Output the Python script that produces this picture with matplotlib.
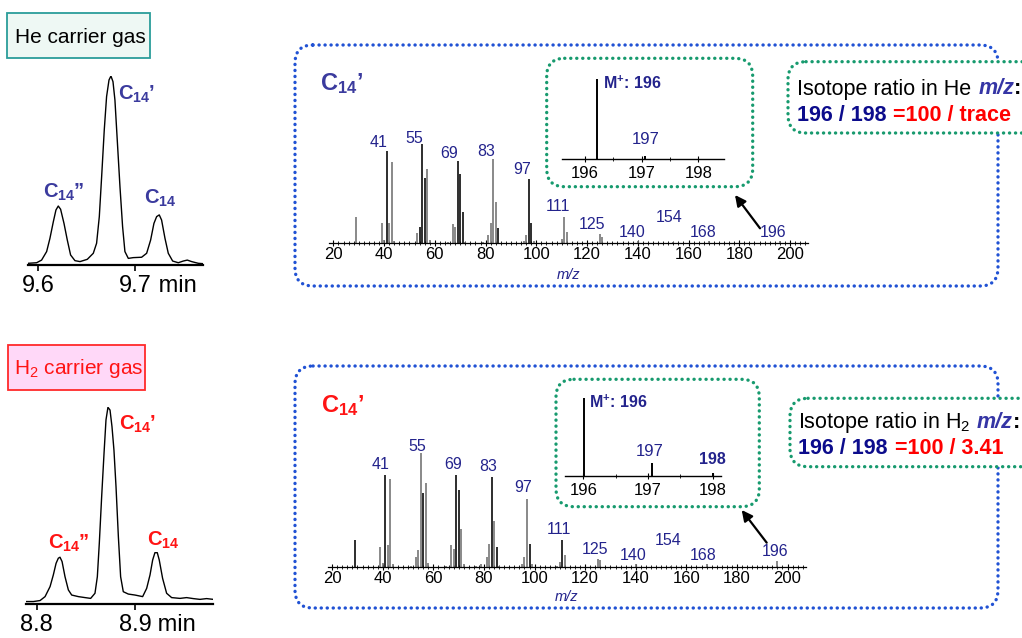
import matplotlib
matplotlib.use('Agg')
import matplotlib.pyplot as plt
from matplotlib.patches import FancyBboxPatch, Rectangle
from matplotlib.ticker import MultipleLocator

plt.rcParams['font.family'] = ['Liberation Sans', 'DejaVu Sans']
plt.rcParams['mathtext.fontset'] = 'custom'
plt.rcParams['mathtext.rm'] = 'Liberation Sans'
plt.rcParams['mathtext.it'] = 'Liberation Sans:italic'
plt.rcParams['mathtext.bf'] = 'Liberation Sans:bold'

# ---- chromatograms (time in min, signal in % of C14' peak) ----
he_time = [9.5897, 9.5983, 9.6034, 9.6086, 9.6120, 9.6155, 9.6182, 9.6206, 9.6230,
           9.6265, 9.6299, 9.6333, 9.6378, 9.6430, 9.6505, 9.6567, 9.6601, 9.6629,
           9.6653, 9.6680, 9.6704, 9.6729, 9.6749, 9.6770, 9.6790, 9.6814, 9.6842,
           9.6869, 9.6893, 9.6928, 9.6979, 9.7065, 9.7117, 9.7158, 9.7192, 9.7220,
           9.7247, 9.7271, 9.7306, 9.7340, 9.7385, 9.7443, 9.7495, 9.7536, 9.7581,
           9.7649, 9.7701]
he_signal = [0.9, 1.2, 2.6, 7.1, 14.1, 22.9, 29.1, 31.2, 29.5,
             22.0, 13.2, 5.3, 2.3, 1.8, 3.0, 6.2, 11.5, 25.6,
             46.7, 71.4, 89.1, 97.9, 100, 97.0, 87.3, 66.1, 41.4,
             20.3, 7.1, 3.5, 3.9, 4.1, 6.2, 13.2, 22.0, 25.6,
             26.5, 23.8, 14.1, 6.2, 2.1, 1.2, 2.1, 2.6, 1.8,
             0.9, 0.7]

h2_time = [8.7892, 8.7966, 8.8034, 8.8085, 8.8136, 8.8169, 8.8197, 8.8220, 8.8237,
           8.8258, 8.8288, 8.8322, 8.8356, 8.8424, 8.8492, 8.8549, 8.8593, 8.8617,
           8.8637, 8.8661, 8.8685, 8.8705, 8.8725, 8.8746, 8.8766, 8.8786, 8.8807,
           8.8831, 8.8854, 8.8881, 8.8932, 8.9000, 8.9078, 8.9119, 8.9153, 8.9180,
           8.9203, 8.9227, 8.9247, 8.9281, 8.9322, 8.9373, 8.9458, 8.9525, 8.9593,
           8.9661, 8.9729, 8.9797]
h2_signal = [1.4, 1.4, 1.9, 3.9, 9.0, 14.9, 20.8, 23.4, 23.9,
             21.7, 14.0, 7.3, 4.7, 3.9, 3.4, 3.0, 5.6, 14.0,
             31.0, 54.7, 76.6, 93.6, 100, 98.6, 90.2, 78.3, 59.7,
             34.3, 14.0, 6.4, 5.2, 4.7, 3.9, 8.1, 14.9, 22.5,
             26.2, 26.2, 22.5, 13.2, 5.6, 3.4, 3.0, 3.4, 2.9,
             2.5, 2.9, 2.5]

# ---- mass spectra of C14' (relative intensity, %) ----
he_mz = [29, 39, 40, 41, 42, 43, 44, 53, 54, 55, 56, 57, 58, 65, 67, 68, 69, 70, 71, 72,
         79, 81, 82, 83, 84, 85, 95, 96, 97, 98, 99, 110, 111, 112, 125, 126, 140, 154, 168, 196]
he_int = [27, 21, 3, 93, 21, 82, 2, 10, 16, 100, 66, 75, 3, 1, 20, 16, 83, 70, 32, 1,
          1, 8, 21, 85, 42, 15, 2, 8, 65, 21, 2, 4, 27, 11, 9, 6, 2, 1, 2, 2]
he_dark = [41, 54, 55, 56, 69, 70, 71, 85, 97, 98]

h2_mz = [29, 39, 40, 41, 42, 43, 44, 51, 53, 54, 55, 56, 57, 58, 65, 67, 68, 69, 70, 71, 72,
         77, 79, 81, 82, 83, 84, 85, 86, 95, 96, 97, 98, 99, 109, 110, 111, 112, 125, 126,
         140, 154, 168, 196]
h2_int = [24, 17, 3, 81, 19, 77, 2, 1, 9, 15, 100, 65, 74, 3, 1, 19, 16, 81, 68, 33, 2,
          1, 2, 9, 20, 79, 40, 17, 1, 2, 9, 60, 20, 2, 1, 4, 24, 10, 7, 6,
          2, 1, 2, 5]
h2_dark = [29, 41, 56, 69, 70, 83, 85, 98, 111]

peak_labels = ['41', '55', '69', '83', '97', '111', '125', '140', '154', '168', '196']
he_label_x = [37.7, 51.8, 65.7, 80.2, 94.3, 108.7, 121.9, 137.9, 152.3, 165.9, 193.5]
he_label_y = [102, 106, 91, 93, 75, 37, 18.5, 11, 26, 11, 11]
h2_label_x = [39.2, 53.8, 67.9, 81.7, 95.5, 109.8, 123.9, 139.0, 152.8, 166.7, 195.0]
h2_label_y = [90, 106.5, 90, 88, 70, 32.4, 15.4, 10.3, 22.7, 10.3, 13.2]

# ---- molecular ion region ----
he_iso_mz = [196.22, 197.06]
he_iso_int = [100, 4]
h2_iso_mz = [196.01, 197.06, 198.0]
h2_iso_int = [100, 16, 3.41]

W, H = 1022, 638
fig = plt.figure(figsize=(W / 100, H / 100), dpi=100)

ov = fig.add_axes([0, 0, 1, 1])
ov.set_xlim(0, W)
ov.set_ylim(H, 0)
ov.axis('off')


def px_axes(x0, y0, x1, y1):
    a = fig.add_axes([x0 / W, 1 - y1 / H, (x1 - x0) / W, (y1 - y0) / H])
    a.patch.set_visible(False)
    for s in ['left', 'right', 'top']:
        a.spines[s].set_visible(False)
    a.set_yticks([])
    return a


blue_box = '#2152d4'
green_box = '#179a6e'
navy = '#23238c'
purple = '#3b3b9e'
red = '#ff1414'
dots = (0, (0.05, 1.75))


def dotted_box(x, y, w, h, color, fill='none', z=1):
    ov.add_patch(FancyBboxPatch((x, y), w, h, boxstyle='round,pad=0,rounding_size=18',
                                linestyle=dots, capstyle='round', lw=2.4,
                                edgecolor=color, facecolor=fill, zorder=z))


# outer boxes
dotted_box(295, 45, 703, 241, blue_box)
dotted_box(295, 366, 703, 242, blue_box)
# inset boxes
dotted_box(546.7, 58.3, 206, 128.4, green_box)
dotted_box(556, 379.3, 203.3, 127.4, green_box)
# ratio boxes
dotted_box(788, 61.7, 280, 71.3, green_box, fill='white', z=3)
dotted_box(790, 398.3, 280, 68.4, green_box, fill='white', z=3)

# carrier gas boxes
ov.add_patch(Rectangle((6.7, 13), 143.3, 45, facecolor='#eef8f4', edgecolor='#2a9d9a', lw=1.3))
ov.text(80.8, 43.3, 'He carrier gas', fontsize=15, ha='center', va='baseline')
ov.add_patch(Rectangle((8, 344.7), 137.3, 45.3, facecolor='#ffd8f8', edgecolor='#ff2a2a', lw=1.3))
ov.text(78.8, 374.3, 'H$_2$ carrier gas', fontsize=15, ha='center', va='baseline', color=red)

# big compound labels in spectrum panels
ov.text(320, 90, "C$_{\\mathbf{14}}$\u2019", fontsize=17, fontweight='bold', color=purple, va='baseline')
ov.text(320.7, 411.7, "C$_{\\mathbf{14}}$\u2019", fontsize=17, fontweight='bold', color=red, va='baseline')

# ratio texts
fs = 15.5
ov.text(797, 94.5, 'Isotope ratio in He', fontsize=fs, va='baseline', zorder=4)
t = ov.text(978.3, 94.5, 'm/z', fontsize=fs, fontweight='bold', fontstyle='italic', color='#3535a5', va='baseline', zorder=4)
ov.annotate(':', xy=(1, 0), xycoords=t, fontsize=fs, fontweight='bold', va='bottom', zorder=4)
ov.text(797, 120.7, '196 / 198', fontsize=fs, fontweight='bold', color='#0c0c8c', va='baseline', zorder=4)
ov.text(893.3, 120.7, '=100 / trace', fontsize=fs, fontweight='bold', color='#ff0000', va='baseline', zorder=4)

ov.text(798, 428.3, 'Isotope ratio in H$_2$', fontsize=fs, va='baseline', zorder=4)
t = ov.text(976.7, 428.3, 'm/z', fontsize=fs, fontweight='bold', fontstyle='italic', color='#3535a5', va='baseline', zorder=4)
ov.annotate(':', xy=(1, 0), xycoords=t, fontsize=fs, fontweight='bold', va='bottom', zorder=4)
ov.text(798, 454.3, '196 / 198', fontsize=fs, fontweight='bold', color='#0c0c8c', va='baseline', zorder=4)
ov.text(895, 454.3, '=100 / 3.41', fontsize=fs, fontweight='bold', color='#ff0000', va='baseline', zorder=4)

# arrows to inset
ov.annotate('', xy=(735, 195), xytext=(760, 228.3),
            arrowprops=dict(arrowstyle='-|>', lw=1.6, color='black', mutation_scale=16, shrinkA=0, shrinkB=0))
ov.annotate('', xy=(741.7, 510), xytext=(766.7, 542.7),
            arrowprops=dict(arrowstyle='-|>', lw=1.6, color='black', mutation_scale=16, shrinkA=0, shrinkB=0))


def chromatogram(box, t, s, xlim, ticks, labels, color):
    ax = px_axes(*box)
    ax.plot(t, s, color='black', lw=1.0)
    ax.set_xlim(xlim)
    ax.set_ylim(0, 100)
    ax.spines['bottom'].set_linewidth(1.6)
    ax.set_xticks(ticks)
    ax.set_xticklabels([f'{v:.1f}' for v in ticks])
    ax.tick_params(axis='x', direction='out', length=4, width=1.2, labelsize=17, pad=3)
    lab = ax.get_xticklabels()[-1]
    ax.annotate(' min', xy=(1, 0), xycoords=lab, fontsize=17, va='bottom')
    for (x, y, txt) in labels:
        ax.text(x, y, txt, color=color, fontsize=14.5, fontweight='bold', va='baseline', clip_on=False)
    return ax


c14a = "C$_{\\mathbf{14}}$\u2019"
c14b = "C$_{\\mathbf{14}}$\u201d"
c14 = "C$_{\\mathbf{14}}$"

chromatogram((28.3, 76, 203.3, 265), he_time, he_signal, (9.5897, 9.7701), [9.6, 9.7],
             [(9.6824, 87.3, c14a), (9.6051, 35.8, c14b), (9.7089, 32.3, c14)], purple)
chromatogram((26, 407.3, 213, 604.3), h2_time, h2_signal, (8.7891, 8.9794), [8.8, 8.9],
             [(8.8841, 88.5, c14a), (8.8112, 28.4, c14b), (8.9119, 29.6, c14)], red)


def spectrum(box, mz, inten, dark, xlim, lx, ly, xlab_y):
    ax = px_axes(*box)
    cols = ['black' if m in dark else '#707070' for m in mz]
    ax.vlines(mz, 0, inten, colors=cols, lw=1.15)
    ax.set_xlim(xlim)
    ax.set_ylim(0, 100)
    ax.spines['bottom'].set_linewidth(0.9)
    ax.set_xticks(range(20, 201, 20))
    ax.xaxis.set_minor_locator(MultipleLocator(2))
    ax.tick_params(axis='x', which='major', direction='inout', length=4, width=0.8, labelsize=12, pad=1)
    ax.tick_params(axis='x', which='minor', direction='inout', length=2.5, width=0.6)
    for txt, x, y in zip(peak_labels, lx, ly):
        ax.text(x, y, txt, color=navy, fontsize=11.5, ha='center', va='center', clip_on=False)
    ax.set_xlabel('m/z', fontstyle='italic', color=navy, fontsize=10.5, va='center')
    ax.xaxis.set_label_coords(0.5, xlab_y)
    return ax


spectrum((329, 144.3, 808, 243.3), he_mz, he_int, he_dark, (18.27, 207.1), he_label_x, he_label_y, -0.32)
spectrum((328, 453.4, 806, 566.7), h2_mz, h2_int, h2_dark, (18.34, 207.3), h2_label_x, h2_label_y, -0.27)


def inset(box, mz, inten, xlim, labels):
    ax = px_axes(*box)
    ax.vlines(mz, 0, inten, colors='black', lw=1.4)
    ax.set_xlim(xlim)
    ax.set_ylim(0, 100)
    ax.spines['bottom'].set_linewidth(1.0)
    ax.set_xticks([196, 197, 198])
    ax.xaxis.set_minor_locator(MultipleLocator(0.5))
    ax.tick_params(axis='x', which='major', direction='inout', length=4, width=0.8, labelsize=12, pad=3)
    ax.tick_params(axis='x', which='minor', direction='inout', length=2.5, width=0.6)
    for (x, y, txt, wt, ha) in labels:
        ax.text(x, y, txt, color=navy, fontsize=11.5 if wt == 'bold' else 12, fontweight=wt,
                ha=ha, va='center', clip_on=False)
    return ax


mplus = "$\\mathbf{M^{+}}$: 196"
inset((561.7, 79.3, 724, 159.3), he_iso_mz, he_iso_int, (195.589, 198.454),
      [(196.32, 95, mplus, 'bold', 'left'), (197.08, 25, '197', 'normal', 'center')])
inset((565, 397.7, 720.7, 476), h2_iso_mz, h2_iso_int, (195.717, 198.124),
      [(196.09, 93.6, mplus, 'bold', 'left'), (197.02, 31, '197', 'normal', 'center'),
       (198.0, 21.3, '198', 'bold', 'center')])

fig.savefig('out.png', dpi=100)
